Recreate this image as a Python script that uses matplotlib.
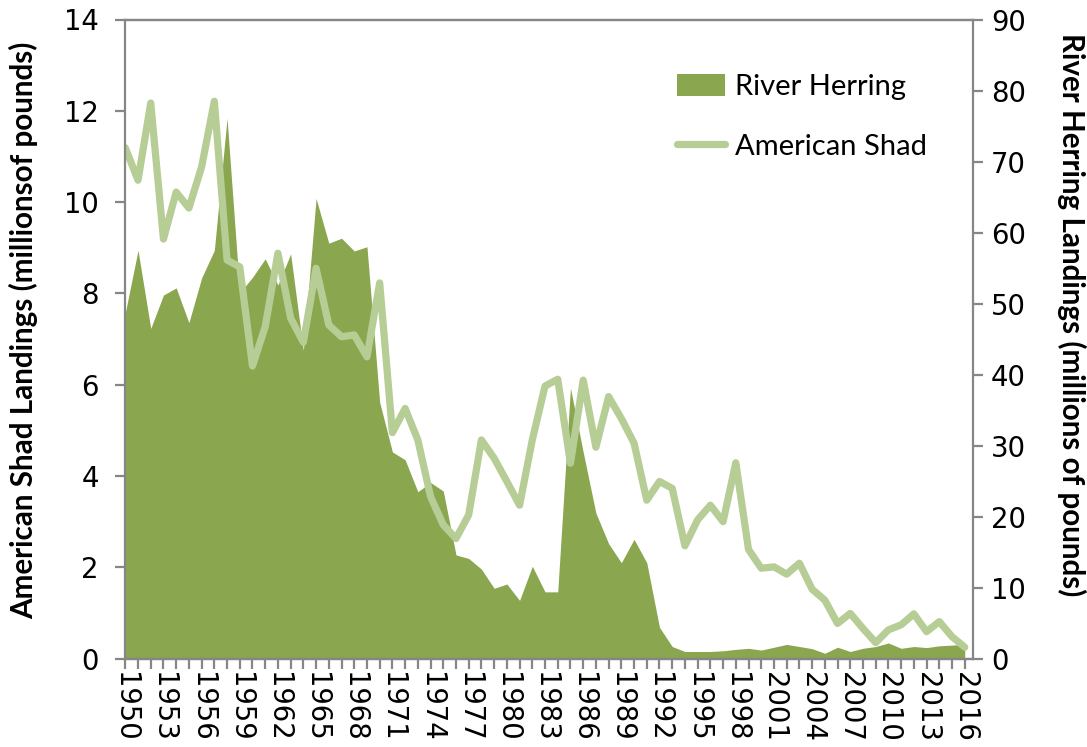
import matplotlib
matplotlib.use("Agg")
import matplotlib.pyplot as plt
from matplotlib.patches import Patch
from matplotlib.lines import Line2D
from matplotlib.ticker import MultipleLocator, FixedLocator

years = list(range(1950, 2017))

# American Shad landings, millions of pounds (left axis)
shad = [11.19, 10.48, 12.17, 9.19, 10.22, 9.87, 10.77, 12.21, 8.73, 8.58,
        6.41, 7.27, 8.88, 7.46, 6.93, 8.55, 7.31, 7.05, 7.09, 6.61,
        8.23, 4.95, 5.48, 4.79, 3.55, 2.93, 2.63, 3.15, 4.79, 4.39,
        3.88, 3.36, 4.79, 5.97, 6.12, 4.28, 6.10, 4.63, 5.74, 5.26,
        4.72, 3.47, 3.88, 3.73, 2.47, 3.04, 3.36, 3.00, 4.29, 2.39,
        1.98, 2.01, 1.85, 2.09, 1.52, 1.28, 0.77, 0.99, 0.66, 0.35,
        0.63, 0.74, 0.98, 0.59, 0.81, 0.48, 0.25]

# River Herring landings, millions of pounds (right axis)
herring = [48.7, 57.5, 46.5, 51.2, 52.2, 47.3, 53.6, 57.5, 76.1, 51.5,
           53.7, 56.3, 52.6, 57.0, 43.4, 64.8, 58.5, 59.2, 57.4, 58.0,
           36.1, 29.1, 28.0, 23.5, 24.8, 23.6, 14.6, 14.1, 12.6, 9.9,
           10.5, 8.2, 13.0, 9.4, 9.4, 38.1, 29.1, 20.5, 16.2, 13.5,
           16.8, 13.5, 4.4, 1.7, 1.0, 1.0, 1.0, 1.1, 1.3, 1.45,
           1.2, 1.6, 2.0, 1.7, 1.4, 0.75, 1.6, 1.0, 1.45, 1.7,
           2.2, 1.45, 1.7, 1.55, 1.8, 1.9, 2.0]

label_years = list(range(1950, 2017, 3))

herring_color = "#8AA64F"
shad_color = "#B7CD96"
axis_color = "#868686"

W, H = 1087, 747
fig = plt.figure(figsize=(W / 100, H / 100), dpi=100)
left, right, top, bottom = 125.3, 973.0, 19.5, 658.6
ax = fig.add_axes([left / W, 1 - bottom / H, (right - left) / W, (bottom - top) / H])
ax2 = ax.twinx()

# herring area on the secondary axis, shad line drawn above it
ax2.fill_between(years, herring, 0, color=herring_color, linewidth=0)
ax.plot(years, shad, color=shad_color, linewidth=5.2,
        solid_joinstyle="round", solid_capstyle="round")
ax.set_zorder(ax2.get_zorder() + 1)
ax.patch.set_visible(False)

ax.set_xlim(1950, 2016.65)
ax.set_ylim(0, 14)
ax2.set_ylim(0, 90)
ax.yaxis.set_major_locator(MultipleLocator(2))
ax2.yaxis.set_major_locator(MultipleLocator(10))
ax.xaxis.set_major_locator(FixedLocator(label_years))
ax.xaxis.set_minor_locator(FixedLocator(years))
ax.set_xticklabels([str(y) for y in label_years], rotation=270)

for lab in ax.get_xticklabels() + ax.get_yticklabels() + ax2.get_yticklabels():
    lab.set_fontfamily("DejaVu Sans")
    lab.set_fontsize(19.8)

for a in (ax, ax2):
    for side in ("left", "right", "top", "bottom"):
        a.spines[side].set_color(axis_color)
        a.spines[side].set_linewidth(1.6)
ax.spines["right"].set_visible(False)
ax2.spines["left"].set_visible(False)

ax.tick_params(axis="y", which="major", direction="out", length=7, width=1.6,
               color=axis_color, pad=12)
ax2.tick_params(axis="y", which="major", direction="out", length=7, width=1.6,
                color=axis_color, pad=6)
ax.tick_params(axis="x", which="both", direction="out", length=7, width=1.6,
               color=axis_color, pad=3)

# axis titles
title_font = dict(family="Lato", weight="bold", size=21.3)
fig.text(24 / W, 1 - 330 / H, "American Shad Landings (millionsof pounds)",
         rotation=90, ha="center", va="center", **title_font)
fig.text(1072 / W, 1 - 315 / H, "River Herring Landings (millions of pounds)",
         rotation=270, ha="center", va="center", **title_font)

handles = [Patch(facecolor=herring_color, edgecolor="none"),
           Line2D([0], [0], color=shad_color, linewidth=5.2, solid_capstyle="round")]
ax.legend(handles, ["River Herring", "American Shad"], loc="upper left",
          bbox_to_anchor=(677 / W, 1 - 74 / H), bbox_transform=fig.transFigure,
          frameon=False, prop=dict(family="Lato", size=21),
          handlelength=1.65, handleheight=0.8, handletextpad=0.35,
          labelspacing=1.13, borderpad=0, borderaxespad=0)

fig.savefig("out.png", dpi=100)
